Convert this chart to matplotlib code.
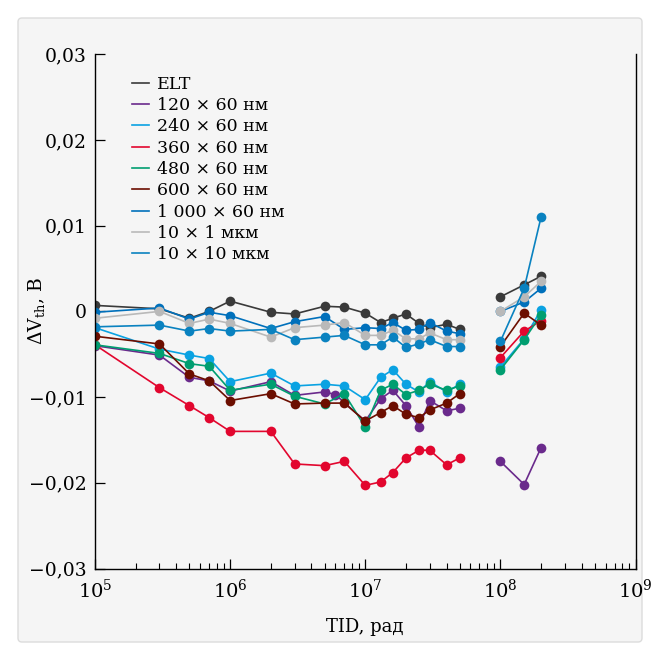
import matplotlib
matplotlib.use("Agg")
import matplotlib.pyplot as plt
from matplotlib.patches import FancyBboxPatch
from matplotlib.ticker import FuncFormatter, LogLocator, NullFormatter, MultipleLocator

# dose points, rad (6e6 is only measured for the 120x60 device)
doses = [1e5, 3e5, 5e5, 7e5, 1e6, 2e6, 3e6, 5e6, 6e6, 7e6, 1e7, 1.3e7, 1.6e7,
         2e7, 2.5e7, 3e7, 4e7, 5e7, 1e8, 1.5e8, 2e8]
gap_after = 17  # no measurements between 5e7 and 1e8

labels = ["ELT", "120 × 60 нм", "240 × 60 нм", "360 × 60 нм", "480 × 60 нм",
          "600 × 60 нм", "1 000 × 60 нм", "10 × 1 мкм", "10 × 10 мкм"]
colors = ["#3a3a3a", "#6a2a8c", "#0aa2e2", "#e2062e", "#009e70",
          "#6c0e00", "#0070bb", "#b9b9b9", "#0a82c0"]

# threshold voltage shift, V
elt = [0.0007, 0.0003, -0.0008, 0.0000, 0.0012, -0.0001, -0.0003, 0.0006, None, 0.0005,
       -0.0002, -0.0013, -0.0008, -0.0003, -0.0014, -0.0019, -0.0015, -0.0021,
       0.0017, 0.0031, 0.0041]
d120 = [-0.0040, -0.0051, -0.0077, -0.0081, -0.0093, -0.0082, -0.0098, -0.0094, -0.0097, None,
        -0.0128, -0.0102, -0.0092, -0.0110, -0.0135, -0.0104, -0.0116, -0.0113,
        -0.0175, -0.0202, -0.0159]
d240 = [-0.0019, -0.0044, -0.0051, -0.0055, -0.0082, -0.0072, -0.0087, -0.0085, None, -0.0087,
        -0.0103, -0.0077, -0.0068, -0.0085, -0.0094, -0.0082, -0.0094, -0.0085,
        -0.0065, -0.0032, 0.0002]
d360 = [-0.0039, -0.0089, -0.0110, -0.0124, -0.0140, -0.0140, -0.0178, -0.0180, None, -0.0175,
        -0.0203, -0.0199, -0.0188, -0.0171, -0.0162, -0.0162, -0.0179, -0.0171,
        -0.0054, -0.0023, -0.0011]
d480 = [-0.0039, -0.0049, -0.0061, -0.0064, -0.0092, -0.0085, -0.0099, -0.0108, None, -0.0096,
        -0.0135, -0.0092, -0.0085, -0.0097, -0.0092, -0.0085, -0.0092, -0.0087,
        -0.0068, -0.0033, -0.0004]
d600 = [-0.0029, -0.0038, -0.0073, -0.0081, -0.0104, -0.0096, -0.0108, -0.0107, None, -0.0107,
        -0.0128, -0.0118, -0.0110, -0.0120, -0.0124, -0.0115, -0.0107, -0.0096,
        -0.0041, -0.0002, -0.0016]
d1000 = [-0.0001, 0.0004, -0.0009, -0.0001, -0.0005, -0.0020, -0.0012, -0.0006, None, -0.0021,
         -0.0019, -0.0020, -0.0013, -0.0022, -0.0021, -0.0013, -0.0023, -0.0026,
         0.0000, 0.0011, 0.0027]
d10x1 = [-0.0008, 0.0000, -0.0014, -0.0009, -0.0014, -0.0030, -0.0019, -0.0016, None, -0.0013,
         -0.0028, -0.0028, -0.0022, -0.0032, -0.0032, -0.0025, -0.0033, -0.0033,
         0.0000, 0.0017, 0.0035]
d10x10 = [-0.0018, -0.0016, -0.0023, -0.0020, -0.0023, -0.0021, -0.0033, -0.0030, None, -0.0028,
          -0.0039, -0.0039, -0.0030, -0.0042, -0.0038, -0.0033, -0.0041, -0.0041,
          -0.0035, 0.0027, 0.0110]

series = [elt, d120, d240, d360, d480, d600, d1000, d10x1, d10x10]

plt.rcParams["font.family"] = ["DejaVu Serif"]
plt.rcParams["mathtext.fontset"] = "dejavuserif"

fig = plt.figure(figsize=(6.6, 6.6), dpi=100)
fig.patch.set_facecolor("white")
panel = FancyBboxPatch((18 / 660, 18 / 660), 624 / 660, 624 / 660,
                       boxstyle="round,pad=0,rounding_size=0.006",
                       transform=fig.transFigure, facecolor="#f5f5f5",
                       edgecolor="#dcdcdc", linewidth=1.0, zorder=-10)
fig.patches.append(panel)

ax = fig.add_axes([95 / 660, 1 - 568.5 / 660, 540.5 / 660, 514.2 / 660])
ax.set_facecolor("#f5f5f5")


def pieces(vals):
    # split at the measurement gap and drop missing points
    for lo, hi in ((0, gap_after + 1), (gap_after + 1, len(doses))):
        xs = [doses[i] for i in range(lo, hi) if vals[i] is not None]
        ys = [vals[i] for i in range(lo, hi) if vals[i] is not None]
        yield xs, ys


for vals, lab, col in zip(series, labels, colors):
    for xs, ys in pieces(vals):
        ax.plot(xs, ys, color=col, lw=1.2, marker="o", ms=7,
                markeredgewidth=0)
    ax.plot([], [], color=col, lw=1.2, label=lab)

ax.set_xscale("log")
ax.set_xlim(1e5, 1e9)
ax.set_ylim(-0.03, 0.03)
ax.xaxis.set_major_locator(LogLocator(base=10, numticks=10))
ax.xaxis.set_minor_locator(LogLocator(base=10, subs=range(2, 10), numticks=20))
ax.xaxis.set_minor_formatter(NullFormatter())
ax.yaxis.set_major_locator(MultipleLocator(0.01))


def yfmt(v, pos):
    if abs(v) < 1e-9:
        return "0"
    return f"{v:.2f}".replace(".", ",").replace("-", "−")


ax.yaxis.set_major_formatter(FuncFormatter(yfmt))
ax.tick_params(which="major", direction="in", length=7, width=0.9,
               labelsize=13.5, pad=6, colors="black")
ax.tick_params(axis="x", which="major", labelsize=14, pad=7)
ax.tick_params(which="minor", direction="in", length=4, width=0.8)
ax.tick_params(axis="y", which="minor", left=False)
ax.tick_params(axis="x", top=False)
ax.tick_params(axis="y", right=False)

for side in ("left", "bottom", "right"):
    ax.spines[side].set_linewidth(1.0)
ax.spines["top"].set_visible(False)

ax.set_xlabel("TID, рад", fontsize=13, labelpad=12)
ax.set_ylabel(r"$\Delta$V$_{\rm th}$, В", fontsize=13.5)
ax.yaxis.set_label_coords(-0.088, 0.5)

leg = ax.legend(loc="upper left", bbox_to_anchor=(0.055, 0.972), frameon=False,
                fontsize=12.5, handlelength=1.0, handletextpad=0.45,
                labelspacing=0.25, borderaxespad=0)

fig.savefig("out.png", dpi=100, facecolor=fig.get_facecolor())
